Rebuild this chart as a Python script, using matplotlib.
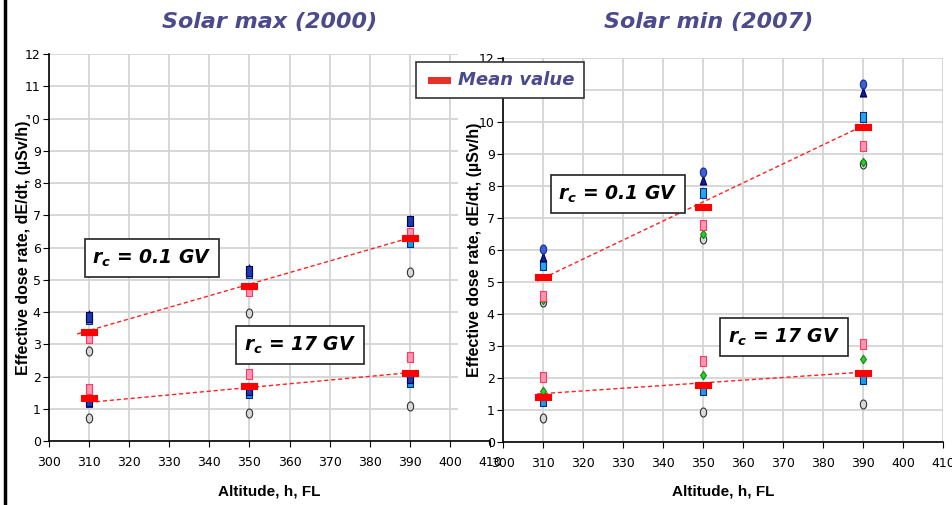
import matplotlib
matplotlib.use('Agg')
import matplotlib.pyplot as plt
from matplotlib.path import Path
from matplotlib.transforms import Affine2D
from matplotlib.patches import Rectangle
from matplotlib.lines import Line2D

plt.rcParams['font.family'] = ['DejaVu Sans']
plt.rcParams['mathtext.fontset'] = 'custom'
plt.rcParams['mathtext.it'] = 'DejaVu Sans:italic:bold'
plt.rcParams['mathtext.rm'] = 'DejaVu Sans:bold'

# altitudes (FL)
alt = [310, 350, 390]

# solar max (2000)
max_hi_mean = [3.38, 4.80, 6.29]
max_hi_tri = [3.92, 5.32, 6.86]
max_hi_navy = [3.85, 5.27, 6.82]
max_hi_blue = [3.78, 5.22, 6.18]
max_hi_pink = [3.20, 4.65, 6.45]
max_hi_gray = [2.78, 3.97, 5.24]
max_lo_mean = [1.33, 1.70, 2.10]
max_lo_navy = [1.25, 1.58, 1.95]
max_lo_blue = [1.22, 1.50, 1.82]
max_lo_pink = [1.60, 2.08, 2.60]
max_lo_gray = [0.70, 0.87, 1.08]
max_hi_fit_x, max_hi_fit_y = [307, 390], [3.32, 6.30]
max_lo_fit_x, max_lo_fit_y = [310, 390], [1.20, 2.12]

# solar min (2007)
min_hi_mean = [5.16, 7.34, 9.84]
min_hi_circ = [6.03, 8.44, 11.20]
min_hi_tri = [5.78, 8.19, 10.94]
min_hi_cyan = [5.53, 7.78, 10.16]
min_hi_pink = [4.56, 6.78, 9.25]
min_hi_green = [4.45, 6.50, 8.75]
min_hi_gray = [4.38, 6.34, 8.68]
min_lo_mean = [1.41, 1.78, 2.16]
min_lo_pink = [2.03, 2.53, 3.06]
min_lo_green = [1.60, 2.09, 2.59]
min_lo_blue = [1.28, 1.63, 1.97]
min_lo_gray = [0.74, 0.94, 1.19]
min_hi_fit_x, min_hi_fit_y = [308.5, 391.5], [5.03, 9.97]
min_lo_fit_x, min_lo_fit_y = [308.5, 392], [1.50, 2.20]

xticks = list(range(300, 420, 10))
yticks = list(range(0, 13))

purple = '#4b4a8c'
tickfont = ['Liberation Sans Narrow', 'DejaVu Sans']
labelfont = ['Liberation Sans', 'DejaVu Sans']

# stretched marker shapes (taller than wide, like the original)
sq = Path([(-0.35, -0.5), (0.35, -0.5), (0.35, 0.5), (-0.35, 0.5), (-0.35, -0.5)],
          [Path.MOVETO, Path.LINETO, Path.LINETO, Path.LINETO, Path.CLOSEPOLY])
ell = Path.unit_circle().transformed(Affine2D().scale(0.7, 1.0))
dia = Path([(0, -0.5), (0.35, 0), (0, 0.5), (-0.35, 0), (0, -0.5)],
           [Path.MOVETO, Path.LINETO, Path.LINETO, Path.LINETO, Path.CLOSEPOLY])
tri = Path([(-0.35, -0.5), (0.35, -0.5), (0, 0.5), (-0.35, -0.5)],
           [Path.MOVETO, Path.LINETO, Path.LINETO, Path.CLOSEPOLY])
bar = Path([(-0.5, -0.2), (0.5, -0.2), (0.5, 0.2), (-0.5, 0.2), (-0.5, -0.2)],
           [Path.MOVETO, Path.LINETO, Path.LINETO, Path.LINETO, Path.CLOSEPOLY])

styles = {
    'tri': dict(marker=tri, ms=6.5, mfc='#10208a', mec='#000060'),
    'navy': dict(marker=sq, ms=6.5, mfc='#1d3aa8', mec='#000060'),
    'circ': dict(marker=ell, ms=6.5, mfc='#3a5fd6', mec='#1a2a90'),
    'blue': dict(marker=sq, ms=6.5, mfc='#1e9be6', mec='#0a2a8a'),
    'cyan': dict(marker=sq, ms=6.5, mfc='#1ea8ee', mec='#0a2a8a'),
    'pink': dict(marker=sq, ms=6.5, mfc='#ff94b4', mec='#ff3a5a'),
    'green': dict(marker=dia, ms=6, mfc='#28d028', mec='#118811'),
    'gray': dict(marker=ell, ms=6.5, mfc='#d8d8d8', mec='#333333'),
    'mean': dict(marker=bar, ms=12, mfc='#ff0000', mec='#ff0000'),
}

fig = plt.figure(figsize=(9.52, 5.05), dpi=100)
ax1 = fig.add_axes([0.0515, 0.1267, 0.4632, 0.7663])
ax2 = fig.add_axes([0.5284, 0.1248, 0.4622, 0.7604])


def pts(ax, y, key):
    ax.plot(alt, y, ls='none', mew=0.8, zorder=4 if key != 'mean' else 5, **styles[key])


def fit(ax, x, y):
    ax.plot(x, y, color='#ff2020', lw=1.0, ls=(0, (3, 2)), zorder=3)


def frame(ax, ylab_x, white):
    ax.set_xlim(300, 410)
    ax.set_ylim(0, 12)
    ax.set_xticks(xticks)
    ax.set_yticks(yticks)
    ax.set_xticklabels([str(v) for v in xticks], family=tickfont, fontsize=9)
    ax.set_yticklabels([str(v) for v in yticks], family=tickfont, fontsize=9)
    ax.grid(True, color='#d4d4d4', lw=1.3)
    ax.set_axisbelow(True)
    for s in ['top', 'right']:
        ax.spines[s].set_visible(False)
    for s in ['left', 'bottom']:
        ax.spines[s].set_linewidth(1.2)
    ax.tick_params(axis='y', length=4, width=0.8, pad=2)
    ax.tick_params(axis='x', length=4, width=0.8, pad=7)
    ax.set_xlabel('Altitude, h, FL', fontsize=11, fontweight='bold', family=labelfont)
    ax.xaxis.set_label_coords(0.5, -0.112)
    yl = ax.set_ylabel('Effective dose rate, dE/dt, (µSv/h)', fontsize=11.5,
                       fontweight='bold', family=labelfont)
    if white:
        yl.set_bbox(dict(boxstyle='square,pad=0.1', fc='white', ec='none'))
    ax.yaxis.set_label_coords(ylab_x, 0.5)


def rc_box(ax, x, y, txt):
    ax.text(x, y, txt, transform=fig.transFigure, ha='center', va='center',
            fontsize=13.5, fontweight='bold', style='italic', zorder=8,
            bbox=dict(boxstyle='square,pad=0.42', fc='white', ec='#222222', lw=1.2))


# solar max
frame(ax1, -0.041, True)
fit(ax1, max_hi_fit_x, max_hi_fit_y)
fit(ax1, max_lo_fit_x, max_lo_fit_y)
for y, k in [(max_hi_gray, 'gray'), (max_hi_blue, 'blue'), (max_hi_tri, 'tri'),
             (max_hi_navy, 'navy'), (max_hi_pink, 'pink'), (max_hi_mean, 'mean'),
             (max_lo_gray, 'gray'), (max_lo_blue, 'blue'), (max_lo_navy, 'navy'),
             (max_lo_pink, 'pink'), (max_lo_mean, 'mean')]:
    pts(ax1, y, k)
ax1.add_patch(Rectangle((458 / 952, 66 / 505), 45 / 952, 400 / 505,
                        transform=fig.transFigure, fc='white', ec='none',
                        clip_on=False, zorder=6))
rc_box(ax1, 152 / 952, 1 - 258 / 505, r'$r_c$ = 0.1 GV')
rc_box(ax1, 300 / 952, 1 - 345 / 505, r'$r_c$ = 17 GV')

# solar min
frame(ax2, -0.048, False)
fit(ax2, min_hi_fit_x, min_hi_fit_y)
fit(ax2, min_lo_fit_x, min_lo_fit_y)
for y, k in [(min_hi_gray, 'gray'), (min_hi_green, 'green'), (min_hi_pink, 'pink'),
             (min_hi_cyan, 'cyan'), (min_hi_tri, 'tri'), (min_hi_circ, 'circ'),
             (min_hi_mean, 'mean'),
             (min_lo_gray, 'gray'), (min_lo_blue, 'blue'), (min_lo_green, 'green'),
             (min_lo_pink, 'pink'), (min_lo_mean, 'mean')]:
    pts(ax2, y, k)
rc_box(ax2, 618 / 952, 1 - 194 / 505, r'$r_c$ = 0.1 GV')
rc_box(ax2, 784 / 952, 1 - 337 / 505, r'$r_c$ = 17 GV')

# titles
fig.text(270 / 952, 1 - 22 / 505, 'Solar max (2000)', ha='center', va='center',
         fontsize=16, fontweight='bold', style='italic', color=purple)
fig.text(709 / 952, 1 - 22 / 505, 'Solar min (2007)', ha='center', va='center',
         fontsize=16, fontweight='bold', style='italic', color=purple)

# "Mean value" legend box
fig.add_artist(Rectangle((416 / 952, 1 - 98 / 505), 168 / 952, 36 / 505,
                         transform=fig.transFigure, fc='white', ec='#333333',
                         lw=1.2, zorder=10))
fig.add_artist(Rectangle((428 / 952, 1 - 84 / 505), 23 / 952, 7 / 505,
                         transform=fig.transFigure, fc='#e8302a', ec='none',
                         zorder=11))
fig.text(516 / 952, 1 - 80 / 505, 'Mean value', ha='center', va='center',
         fontsize=13, fontweight='bold', style='italic', color=purple, zorder=11)

# slide border on the left
fig.add_artist(Line2D([5 / 952, 5 / 952], [0, 1], color='black', lw=2.5,
                      transform=fig.transFigure))

fig.savefig('out.png', dpi=100)
